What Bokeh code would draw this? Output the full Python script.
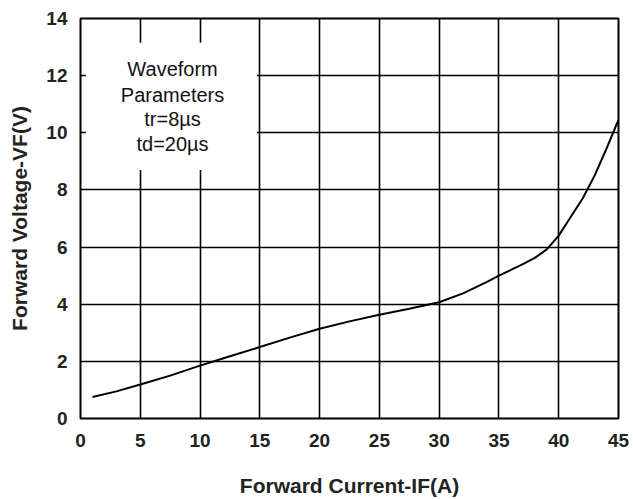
from bokeh.plotting import figure
from bokeh.models import Range1d, FixedTicker, ColumnDataSource
from bokeh.core.properties import value
from bokeh.embed import file_html
from bokeh.resources import INLINE

# Data
current_a = [1, 3, 5, 7.5, 10, 12.5, 15, 17.5, 20, 22.5, 25, 27.5, 30,
             32, 34, 35, 36, 37, 38, 39, 40, 41, 42, 43, 44, 45]
voltage_v = [0.75, 0.95, 1.19, 1.5, 1.85, 2.18, 2.5, 2.83, 3.14, 3.4, 3.63, 3.84, 4.07,
             4.38, 4.78, 5.0, 5.2, 5.4, 5.62, 5.92, 6.4, 7.05, 7.7, 8.5, 9.45, 10.45]
x_ticks = [0, 5, 10, 15, 20, 25, 30, 35, 40, 45]
y_ticks = [0, 2, 4, 6, 8, 10, 12, 14]
note_lines = ["Waveform", "Parameters", "tr=8µs", "td=20µs"]
x_title = "Forward Current-IF(A)"
y_title = "Forward Voltage-VF(V)"

FONT = "Liberation Sans"

p = figure(width=633, height=499, output_backend="svg", toolbar_location=None,
           x_range=Range1d(0, 45), y_range=Range1d(0, 14),
           min_border_left=80, min_border_right=15, min_border_top=18, min_border_bottom=81)

p.background_fill_color = "white"
p.border_fill_color = "white"
p.outline_line_color = "black"
p.outline_line_width = 2

for ax in (p.xaxis, p.yaxis):
    ax.axis_line_color = None
    ax.major_tick_line_color = None
    ax.minor_tick_line_color = None
    ax.major_tick_out = 0
    ax.major_label_text_font = FONT
    ax.major_label_text_font_style = "bold"
    ax.major_label_text_font_size = "19px"
    ax.major_label_text_color = "#222222"
    ax.axis_label_text_font = FONT
    ax.axis_label_text_font_style = "bold"
    ax.axis_label_text_font_size = "21px"
    ax.axis_label_text_color = "#222222"

p.xaxis.ticker = FixedTicker(ticks=x_ticks)
p.yaxis.ticker = FixedTicker(ticks=y_ticks)
p.xaxis.axis_label = x_title
p.yaxis.axis_label = y_title
p.xaxis.major_label_standoff = 15
p.yaxis.major_label_standoff = 13
p.xaxis.axis_label_standoff = 24
p.yaxis.axis_label_standoff = 12

p.xgrid.grid_line_color = "black"
p.ygrid.grid_line_color = "black"
p.xgrid.grid_line_width = 1.6
p.ygrid.grid_line_width = 1.6

# white note box covering the grid
p.quad(left=0.45, right=14.75, bottom=8.7, top=13.15, fill_color="white", line_color=None)

# note text
note_y = [12.25, 11.34, 10.47, 9.62]
src = ColumnDataSource(dict(x=[7.7] * len(note_lines), y=note_y, t=note_lines))
p.text(x="x", y="y", text="t", source=src, text_align="center", text_baseline="middle",
       text_font=value(FONT), text_font_size="20px", text_color="#111111")

p.line(current_a, voltage_v, line_color="black", line_width=2)

open("out.html", "w").write(file_html(p, INLINE))
